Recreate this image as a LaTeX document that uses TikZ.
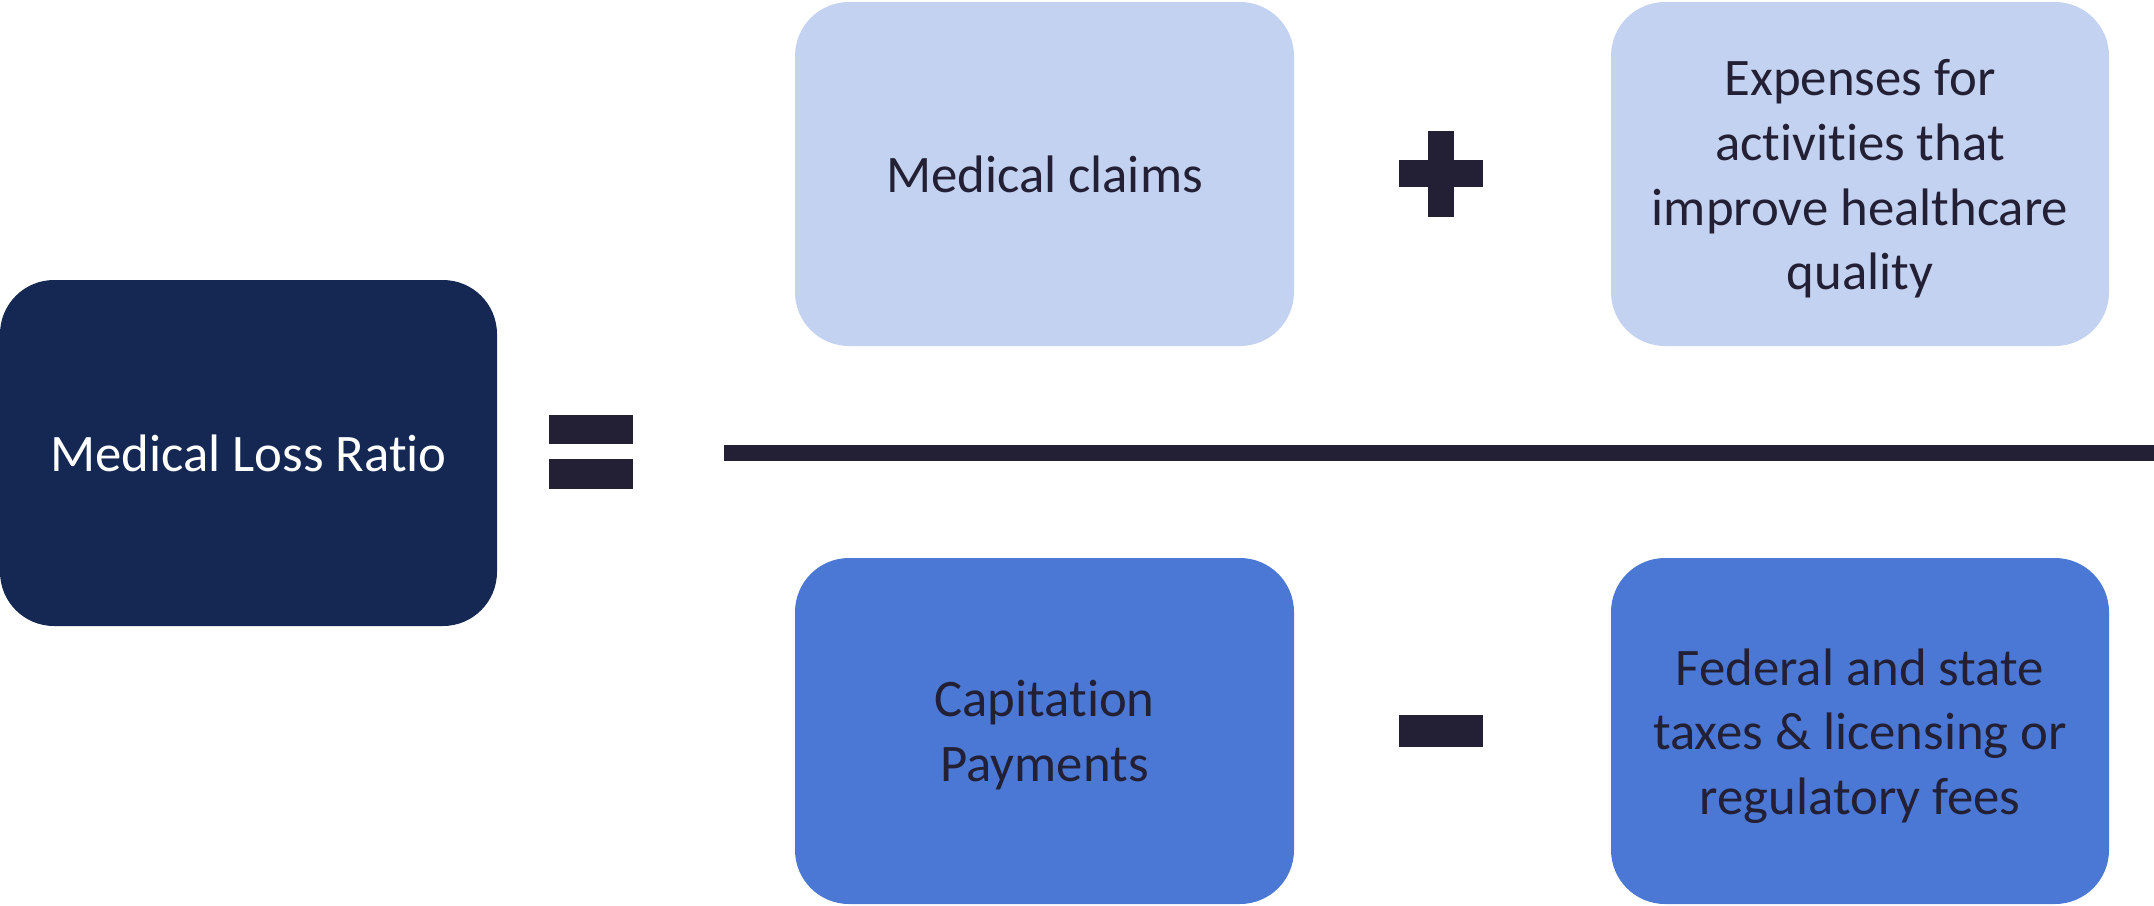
\documentclass[tikz,border=0pt]{standalone}
\usepackage{fontspec}
\setmainfont{Carlito}[RawFeature={-liga,-clig,-calt,-dlig}]
\newcommand{\nolig}{\kern0pt{}}
\definecolor{navy}{HTML}{152853}
\definecolor{lightblue}{HTML}{C3D2F0}
\definecolor{midblue}{HTML}{4A78D4}
\definecolor{ink}{HTML}{231F35}
\begin{document}
\begin{tikzpicture}[x=0.01cm,y=-0.01cm,
  term/.style={rounded corners=0.54cm, inner sep=0pt, font=\fontsize{15}{18.4}\selectfont, align=center, text=ink},
  sym/.style={fill=ink, draw=none}]
\useasboundingbox (0,0) rectangle (2154,905);
% boxes
\fill[navy, rounded corners=0.54cm] (0,280) rectangle (497,626);
\node[text=white, font=\fontsize{15}{18.4}\selectfont] (mlr) at (248.5,453) {Medical Loss Rat\nolig io};
\fill[lightblue, rounded corners=0.54cm] (795,2) rectangle (1294,346);
\node[term] (claims) at (1044.5,174) {Medical claims};
\fill[lightblue, rounded corners=0.54cm] (1611,2) rectangle (2109,346);
\node[term] (expenses) at (1860,179) {Expenses for\\act\nolig ivit\nolig ies that\\improve healthcare\\quality};
\fill[midblue, rounded corners=0.54cm] (795,558) rectangle (1294,904);
\node[term] (capitation) at (1044.5,735) {Capitat\nolig ion\\Payments};
\fill[midblue, rounded corners=0.54cm] (1611,558) rectangle (2109,904);
\node[term] (fees) at (1860,736) {Federal and state\\taxes \& licensing or\\regulatory fees};
% equals sign
\fill[sym] (549,415) rectangle (633,444);
\fill[sym] (549,459) rectangle (633,489);
% fraction bar
\fill[sym] (724,445) rectangle (2154,461);
% plus sign
\fill[sym] (1428,131) rectangle (1454,217);
\fill[sym] (1399,160) rectangle (1483,187);
% minus sign
\fill[sym] (1399,715) rectangle (1483,747);
\end{tikzpicture}
\end{document}
